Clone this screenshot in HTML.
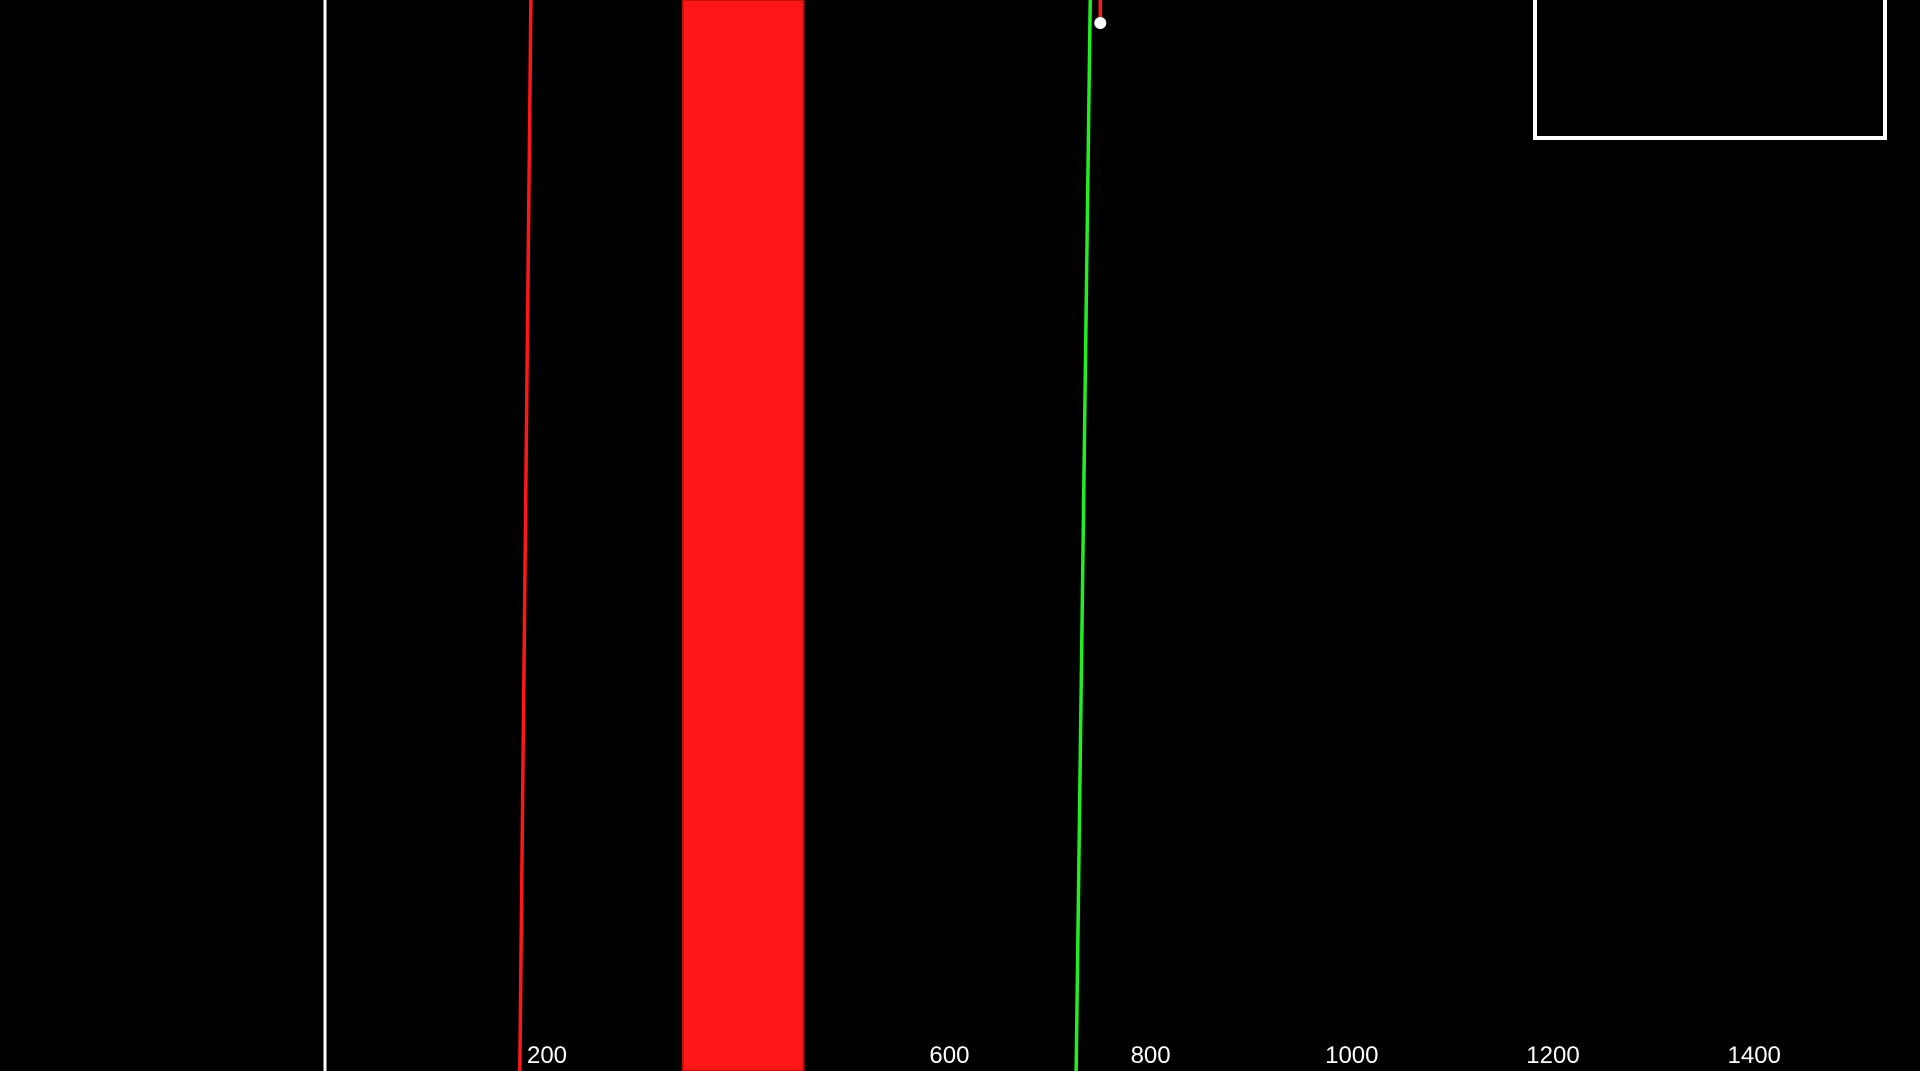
<!DOCTYPE html>
<html><head><meta charset="utf-8"><style>
html,body{margin:0;padding:0;background:#000;width:1920px;height:1071px;overflow:hidden}
svg{display:block}
text{font-family:"Liberation Sans",sans-serif;fill:#fff;font-size:24px}
</style></head><body>
<svg id="chart" width="1920" height="1071" viewBox="0 0 1920 1071">
<rect width="1920" height="1071" fill="#000"/>
<line x1="325" y1="0" x2="325" y2="1071" stroke="#fff" stroke-width="3"/>
<g id="marks"></g>
<g id="ticks"></g>
<rect x="1535" y="-10" width="350" height="148" fill="none" stroke="#fff" stroke-width="4"/>
</svg>
<script>
const tickValues=[200,600,800,1000,1200,1400];
const bandRange=[333,453];
const redLine=[182,171];
const greenLine=[738,724];
const redStub=[748,748];
const pointValue=[748];
function x(v){return 549+(v-200)*1.006;}
const ns='http://www.w3.org/2000/svg';
const marks=document.getElementById('marks');
const ticks=document.getElementById('ticks');
function mk(tag,attrs,parent){const e=document.createElementNS(ns,tag);for(const k in attrs)e.setAttribute(k,attrs[k]);parent.appendChild(e);return e;}
let b=mk('rect',{x:x(bandRange[0]),y:0,width:x(bandRange[1])-x(bandRange[0]),height:1071,fill:'#ff1717',stroke:'#c01010','stroke-width':2},marks);


let r=mk('line',{x1:x(redLine[0]),y1:0,x2:x(redLine[1]),y2:1071,stroke:'#ff1717','stroke-width':3.5},marks);


let g=mk('line',{x1:x(greenLine[0]),y1:0,x2:x(greenLine[1]),y2:1071,stroke:'#22ee22','stroke-width':3.5},marks);


let s=mk('line',{x1:x(redStub[0]),y1:0,x2:x(redStub[1]),y2:23,stroke:'#ff1717','stroke-width':3.5},marks);


let p=mk('circle',{cx:x(pointValue[0]),cy:23,r:6,fill:'#fff'},marks);


tickValues.forEach(v=>{
  const t=mk('text',{x:x(v)-2,y:1063,'text-anchor':'middle'},ticks);
  t.textContent=v;
  
  
});
</script>
</body></html>
